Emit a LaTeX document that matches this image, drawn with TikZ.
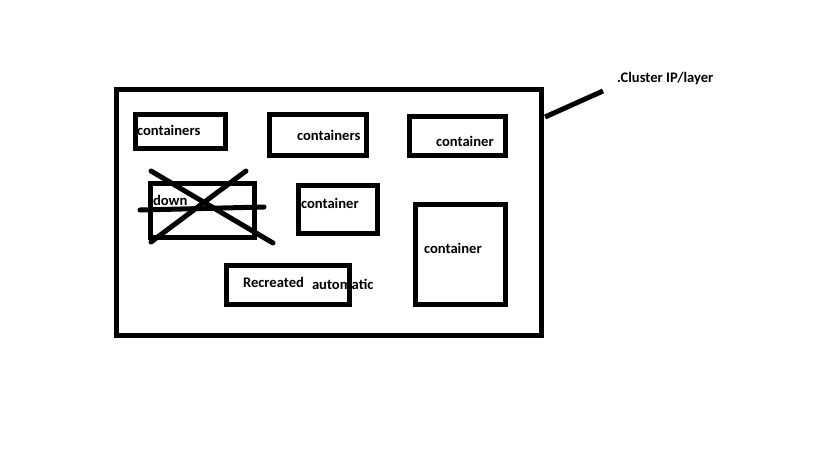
\documentclass[tikz,border=0pt]{standalone}
\usepackage{fontspec}
\setmainfont{Carlito}
\begin{document}
\begin{tikzpicture}[x=1pt,y=-1pt,
  box/.style={draw=black,line width=5pt,rectangle,inner sep=0pt,outer sep=0pt},
  lbl/.style={anchor=base west,inner sep=0pt,outer sep=0pt,font=\fontsize{14.6}{16}\selectfont\bfseries,text=black},
  stroke/.style={line width=5pt,line cap=round}]
\useasboundingbox[fill=white] (0,0) rectangle (819,460);
% labels first (the box edge covers part of "automatic")
\node[lbl] (t1) at (137,135) {containers};
\node[lbl] (t2) at (297,140) {containers};
\node[lbl] (t3) at (436,146) {container};
\node[lbl] (t4) at (153,205) {down};
\node[lbl] (t5) at (301,208) {container};
\node[lbl] (t6) at (424,253) {container};
\node[lbl] (t7) at (243,287) {Recreated};
\node[lbl] (t8) at (312,289) {automatic};
\node[lbl] (t9) at (617,82) {.Cluster IP/layer};
% boxes
\node[box,minimum width=425pt,minimum height=246pt] (outer) at (328.5,212) {};
\node[box,minimum width=90pt,minimum height=34pt] (b1) at (180,131) {};
\node[box,minimum width=97pt,minimum height=41pt] (b2) at (317.5,134.5) {};
\node[box,minimum width=96pt,minimum height=39pt] (b3) at (457,135.5) {};
\node[box,minimum width=104pt,minimum height=54pt] (bdown) at (202,210) {};
\node[box,minimum width=79pt,minimum height=48pt] (b5) at (337.5,209) {};
\node[box,minimum width=90pt,minimum height=100pt] (b6) at (460,254) {};
\node[box,minimum width=123pt,minimum height=39pt] (b7) at (287.5,284.5) {};
% strike-through marks
\coordinate (x1a) at (151,171); \coordinate (x1b) at (273,243);
\coordinate (x2a) at (246,171); \coordinate (x2b) at (151,242);
\coordinate (x3a) at (140,210); \coordinate (x3b) at (264,207);
\draw[stroke] (x1a) -- (x1b);
\draw[stroke] (x2a) -- (x2b);
\draw[stroke] (x3a) -- (x3b);
% cluster pointer
\coordinate (c1) at (545,117);
\coordinate (c2) at (603,91);
\draw[stroke,line cap=butt] (c1) -- (c2);
\end{tikzpicture}
\end{document}
